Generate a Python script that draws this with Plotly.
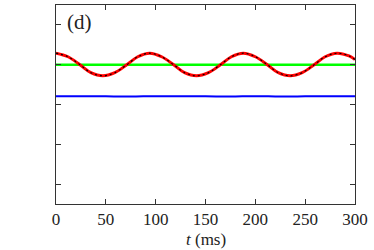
import plotly.graph_objects as go

# ---- data ----
t_red = [0, 12, 24, 35, 47, 59, 71, 82, 94, 106, 118, 129, 141, 153, 165,
         176, 188, 200, 212, 223, 235, 247, 259, 270, 282, 294, 300]
v_red = [4.29, 4.20, 4.00, 3.80, 3.72, 3.80, 4.00, 4.20, 4.29, 4.20, 4.00,
         3.80, 3.72, 3.80, 4.00, 4.20, 4.29, 4.20, 4.00, 3.80, 3.72, 3.80,
         4.00, 4.20, 4.29, 4.22, 4.13]

t_green = [0, 300]
v_green = [4.0, 4.0]

t_blue = [0, 25, 50, 75, 100, 125, 150, 175, 200, 225, 250, 275, 300]
v_blue = [3.205, 3.21, 3.205, 3.20, 3.21, 3.205, 3.205, 3.20, 3.21, 3.20,
          3.205, 3.21, 3.205]

x_ticks = [0, 50, 100, 150, 200, 250, 300]
y_ticks = [1, 2, 3, 4, 5]
panel_label = "(d)"
x_title = "<i>t</i> (ms)"

FONT = "'Liberation Serif', 'DejaVu Serif', serif"

fig = go.Figure()
fig.add_trace(go.Scatter(x=t_green, y=v_green, mode="lines",
                         line=dict(color="#00ff00", width=2.5)))
fig.add_trace(go.Scatter(x=t_blue, y=v_blue, mode="lines", line_shape="spline",
                         line=dict(color="#0000ff", width=2)))
fig.add_trace(go.Scatter(x=t_red, y=v_red, mode="lines", line_shape="spline",
                         line=dict(color="#ff0000", width=3)))
fig.add_trace(go.Scatter(x=t_red, y=v_red, mode="lines", line_shape="spline",
                         line=dict(color="#000000", width=1.1, dash="2px,3px")))

axis_common = dict(showgrid=False, zeroline=False, showline=True,
                   linecolor="#333333", linewidth=1, mirror="ticks",
                   ticks="inside", ticklen=5, tickwidth=1, tickcolor="#333333")

fig.update_layout(
    width=374, height=250,
    margin=dict(l=56, r=19, t=5, b=46),
    paper_bgcolor="white", plot_bgcolor="white",
    showlegend=False,
    font=dict(family=FONT, size=18, color="#222222"),
    xaxis=dict(range=[0, 300], tickvals=x_ticks,
               tickfont=dict(size=17), ticklabelstandoff=0,
               **axis_common),
    yaxis=dict(range=[0.5, 5.5], tickvals=y_ticks, showticklabels=False,
               **axis_common),
    annotations=[
        dict(text=panel_label, x=0.03, y=0.985, xref="paper",
             yref="paper", xanchor="left", yanchor="top",
             showarrow=False, font=dict(size=21, family=FONT)),
        dict(text=x_title, x=0.5, y=-0.18, xref="paper", yref="paper",
             xanchor="center", yanchor="middle", showarrow=False,
             font=dict(size=17, family=FONT)),
    ],
)

fig.write_html(
    "out.html",
    config={"displayModeBar": False},
    post_script="document.body.style.margin='0';document.body.style.overflow='hidden';",
)
